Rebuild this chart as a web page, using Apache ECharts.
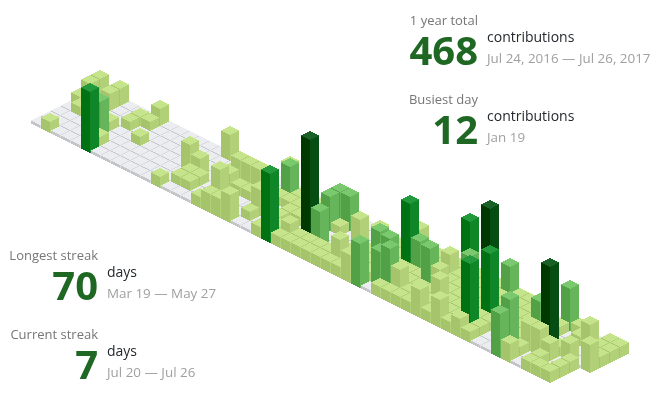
<!DOCTYPE html>
<html>
<head>
<meta charset="utf-8">
<style>
  html, body { margin: 0; padding: 0; background: #fff; }
  #chart { width: 660px; height: 394px; }
</style>
<script src="https://cdn.jsdelivr.net/npm/echarts@6/dist/echarts.min.js"></script>
</head>
<body>
<div id="chart"></div>
<script>
// contributions per week, Sunday to Saturday
var contributions = [
  [2,2,1,0,0,0,0], [0,0,0,1,0,0,1], [2,2,0,0,0,0,0], [0,0,0,0,0,0,0], [0,0,0,1,4,0,0],
  [0,1,1,0,0,1,7], [2,1,0,0,0,0,0], [0,0,0,1,0,0,0], [0,0,0,0,0,0,0], [0,0,0,0,0,0,0],
  [0,0,0,0,0,0,0], [0,0,0,0,0,0,0], [0,0,0,3,0,0,1], [3,0,0,2,1,1,0], [0,0,0,0,1,1,0],
  [0,0,1,0,0,0,0], [0,0,3,2,3,0,1], [0,0,3,1,0,0,2], [0,0,3,1,0,1,2], [3,0,1,1,0,0,3],
  [0,4,1,0,3,1,0], [0,1,1,0,1,0,0], [0,0,1,1,1,1,1], [0,1,0,1,0,1,8], [0,1,1,1,0,2,1],
  [0,4,4,1,12,1,1], [0,4,1,0,4,1,1], [0,0,0,0,0,1,1], [0,0,3,0,0,1,1], [0,2,0,0,1,3,1],
  [0,0,3,1,0,1,1], [0,1,0,4,1,1,3], [3,1,1,1,1,1,5], [0,1,8,1,5,4,0], [1,1,4,1,1,5,1],
  [1,1,1,1,1,3,1], [1,3,1,5,1,1,1], [7,1,1,3,1,1,1], [1,4,1,1,3,1,3], [1,1,1,1,1,1,1],
  [1,11,1,1,1,1,3], [4,1,1,1,1,1,1], [1,1,1,8,1,8,2], [1,1,1,1,1,1,1], [0,1,1,1,1,0,0],
  [0,1,1,1,1,1,0], [0,1,4,1,1,6,5], [5,1,0,1,3,1,2], [1,0,0,10,3,0,0], [0,1,0,1,2,1,1],
  [0,3,0,2,0,0,1], [1,1,0,0,1,1,1], [1,1,1,3]
];
var maxCount = 12;

// top, left and right faces per level, empty first
var topColors = ['#ebedf0', '#c6e48b', '#7bc96f', '#239a3b', '#196127'];
var leftColors = ['#c3c5c8', '#a6c46b', '#53a147', '#007213', '#003900'];
var rightColors = ['#d7d9dc', '#b2d077', '#67b55b', '#0f8627', '#054d13'];

var totalLabel = ['1 year total', '468', 'contributions', 'Jul 24, 2016 — Jul 26, 2017'];
var busiestLabel = ['Busiest day', '12', 'contributions', 'Jan 19'];
var longestLabel = ['Longest streak', '70', 'days', 'Mar 19 — May 27'];
var currentLabel = ['Current streak', '7', 'days', 'Jul 20 — Jul 26'];

var cells = [];
contributions.forEach(function (days, week) {
  days.forEach(function (count, day) {
    // x axis runs along week - day, y axis along week + day
    cells.push([week - day, week + day, count]);
  });
});

function levelOf(count) {
  if (count === 0) return 0;
  return Math.ceil(count / maxCount * 4);
}

// rhombus edge as pixel stairs, 9 columns of 2px so nothing gets antialiased
function stairs(cx, y, dir) {
  var pts = [];
  for (var i = 0; i < 9; i++) {
    var dist = Math.min(i, 8 - i);
    var x = cx - 9 + i * 2;
    pts.push([x, y + dir * dist], [x + 2, y + dir * dist]);
  }
  return pts;
}

function renderCube(params, api) {
  var u = api.value(0);
  var v = api.value(1);
  var count = api.value(2);
  var level = levelOf(count);
  var units = (3 + Math.floor(100 / maxCount * count)) / 5;

  var ground = api.coord([u, v]);
  var top = api.coord([u, v - units]);
  var cx = Math.round(ground[0]);
  var gy = Math.round(ground[1]);
  var ty = Math.round(top[1]);

  var groundEdge = stairs(cx, gy, 1);
  var topUpper = stairs(cx, ty - 1, -1);
  var topLower = stairs(cx, ty, 1);

  return {
    type: 'group',
    children: [
      {
        type: 'polygon',
        shape: { points: [[cx - 9, ty], [cx, ty], [cx, gy + 4]].concat(groundEdge.slice(0, 9).reverse()) },
        style: { fill: leftColors[level] }
      },
      {
        type: 'polygon',
        shape: { points: [[cx, ty], [cx + 9, ty]].concat(groundEdge.slice(9).reverse()).concat([[cx, gy + 4]]) },
        style: { fill: rightColors[level] }
      },
      {
        type: 'polygon',
        shape: { points: topUpper.concat(topLower.slice().reverse()) },
        style: { fill: topColors[level] }
      }
    ]
  };
}

function statBlock(labels, numberRight, top) {
  var family = '"Open Sans", "Noto Sans", sans-serif';
  return [
    { type: 'text', style: { text: labels[0], x: numberRight, y: top + 1, textAlign: 'right', fill: '#767676', font: '13px ' + family } },
    { type: 'text', style: { text: labels[1], x: numberRight, y: top + 20, textAlign: 'right', fill: '#1e6823', font: 'bold 40px ' + family } },
    { type: 'text', style: { text: labels[2], x: numberRight + 9, y: top + 17, textAlign: 'left', fill: '#24292e', font: '14px ' + family } },
    { type: 'text', style: { text: labels[3], x: numberRight + 9, y: top + 39, textAlign: 'left', fill: '#a0a0a0', font: '13.4px ' + family } }
  ];
}

var chart = echarts.init(document.getElementById('chart'));
chart.setOption({
  animation: false,
  grid: { left: 0, right: 0, top: 0, bottom: 0 },
  xAxis: { type: 'value', min: -10, max: 56, show: false },
  yAxis: { type: 'value', min: -18.8, max: 60, inverse: true, show: false },
  graphic: statBlock(totalLabel, 478, 14)
    .concat(statBlock(busiestLabel, 478, 93))
    .concat(statBlock(longestLabel, 98, 249))
    .concat(statBlock(currentLabel, 98, 328)),
  series: [{
    type: 'custom',
    silent: true,
    clip: false,
    renderItem: renderCube,
    encode: { x: 0, y: 1 },
    data: cells
  }]
});
</script>
</body>
</html>
